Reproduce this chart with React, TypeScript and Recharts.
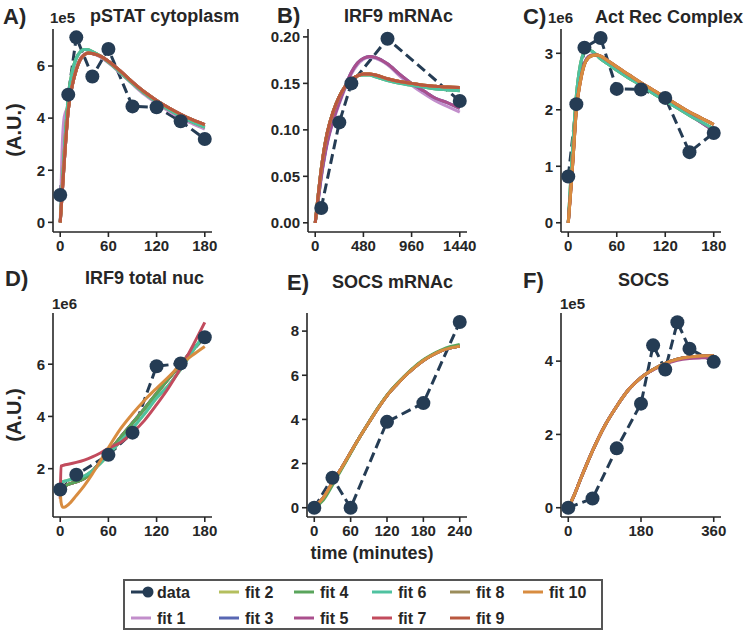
import React from "react";
import { LineChart, Line, XAxis, YAxis } from "recharts";

const FONT = '"Liberation Sans", Arial, sans-serif';
const INK = "#262626";
const DATA_COLOR = "#253c54";
const FIT_COLORS = ["#c28ecb", "#b4bf5e", "#5867b3", "#5aa55c", "#aa4f8d", "#4fc2a0", "#c24b5d", "#9b8d5b", "#b9583f", "#d88c40"];

// ── A) pSTAT cytoplasm (x1e5) ──
const A_DATA_T = [0, 10, 20, 40, 60, 90, 120, 150, 180];
const A_DATA_V = [1.05, 4.9, 7.1, 5.6, 6.65, 4.45, 4.42, 3.88, 3.2];
const A_FIT_T = [0, 2, 5, 10, 15, 20, 25, 30, 35, 40, 50, 60, 75, 90, 105, 120, 135, 150, 165, 180];
const A_FIT_MAIN = [0, 0.9, 2.3, 4.3, 5.25, 5.85, 6.25, 6.43, 6.5, 6.48, 6.38, 6.18, 5.8, 5.38, 5.0, 4.68, 4.4, 4.15, 3.93, 3.75];
const A_FIT_GREEN = [0, 1.1, 2.7, 4.8, 5.8, 6.3, 6.55, 6.63, 6.62, 6.55, 6.38, 6.15, 5.75, 5.33, 4.95, 4.62, 4.33, 4.07, 3.85, 3.65];
const A_FIT_ONE = [0, 2.5, 4.05, 4.5, 5.35, 5.95, 6.3, 6.45, 6.5, 6.47, 6.35, 6.12, 5.72, 5.3, 4.9, 4.56, 4.27, 4.0, 3.78, 3.58];

// ── B) IRF9 mRNAc ──
const B_DATA_T = [60, 240, 360, 720, 1440];
const B_DATA_V = [0.016, 0.108, 0.15, 0.198, 0.131];
const B_FIT_T = [0, 30, 60, 90, 120, 180, 240, 300, 360, 420, 480, 540, 600, 720, 840, 960, 1080, 1200, 1320, 1440];
const B_FIT_FLAT = [0, 0.03, 0.058, 0.08, 0.097, 0.12, 0.136, 0.147, 0.154, 0.158, 0.16, 0.16, 0.159, 0.155, 0.152, 0.15, 0.148, 0.147, 0.146, 0.1455];
const B_FIT_FLAT2 = [0, 0.03, 0.058, 0.08, 0.097, 0.12, 0.136, 0.147, 0.154, 0.158, 0.159, 0.159, 0.157, 0.153, 0.15, 0.148, 0.146, 0.144, 0.143, 0.142];
const B_FIT_PEAK = [0, 0.025, 0.05, 0.07, 0.087, 0.111, 0.13, 0.147, 0.162, 0.172, 0.177, 0.179, 0.178, 0.171, 0.16, 0.15, 0.142, 0.134, 0.129, 0.123];
const B_FIT_PEAK1 = [0, 0.024, 0.048, 0.068, 0.085, 0.109, 0.128, 0.145, 0.16, 0.17, 0.176, 0.178, 0.177, 0.17, 0.158, 0.148, 0.139, 0.131, 0.125, 0.119];

// ── C) Act Rec Complex (x1e6) ──
const C_DATA_T = [0, 10, 20, 40, 60, 90, 120, 150, 180];
const C_DATA_V = [0.82, 2.1, 3.1, 3.27, 2.37, 2.36, 2.21, 1.25, 1.59];
const C_FIT_T = [0, 3, 6, 10, 15, 20, 25, 30, 35, 40, 50, 60, 75, 90, 105, 120, 135, 150, 165, 180];
const C_FIT_LATE = [0, 0.55, 1.15, 2.0, 2.5, 2.8, 2.92, 2.96, 2.97, 2.95, 2.86, 2.76, 2.62, 2.48, 2.35, 2.22, 2.09, 1.96, 1.85, 1.74];
const C_FIT_EARLY = [0, 0.75, 1.45, 2.25, 2.8, 3.02, 3.06, 3.03, 2.97, 2.9, 2.8, 2.7, 2.56, 2.43, 2.29, 2.16, 2.03, 1.9, 1.78, 1.66];
const C_FIT_PURPLE = [0, 0.6, 1.2, 2.05, 2.55, 2.83, 2.94, 2.97, 2.97, 2.94, 2.85, 2.74, 2.6, 2.45, 2.32, 2.18, 2.05, 1.91, 1.77, 1.63];

// ── D) IRF9 total nuc (x1e6) ──
const D_DATA_T = [0, 20, 60, 90, 120, 150, 180];
const D_DATA_V = [1.2, 1.77, 2.53, 3.38, 5.92, 6.03, 7.03];
const D_FIT_T = [0, 1, 3, 5, 10, 20, 30, 40, 50, 60, 75, 90, 105, 120, 135, 150, 165, 180];
const D_FIT_RED = [0.85, 2.1, 2.12, 2.14, 2.17, 2.24, 2.33, 2.45, 2.6, 2.78, 3.0, 3.38, 3.85, 4.45, 5.1, 5.85, 6.7, 7.6];
const D_FIT_ORANGE = [1.2, 0.72, 0.52, 0.52, 0.62, 0.97, 1.35, 1.8, 2.3, 2.8, 3.52, 4.1, 4.62, 5.08, 5.52, 5.98, 6.35, 6.68];
const D_FIT_TEAL = [1.45, 1.48, 1.5, 1.52, 1.56, 1.63, 1.72, 1.92, 2.2, 2.53, 3.05, 3.55, 4.1, 4.7, 5.2, 5.8, 6.5, 7.15];
const D_FIT_GREEN = [1.05, 1.15, 1.25, 1.32, 1.4, 1.5, 1.62, 1.9, 2.25, 2.62, 3.2, 3.75, 4.3, 4.88, 5.45, 6.0, 6.55, 7.05];

// ── E) SOCS mRNAc ──
const E_DATA_T = [0, 30, 60, 120, 180, 240];
const E_DATA_V = [0, 1.36, 0, 3.89, 4.74, 8.41];
const E_FIT_T = [0, 15, 30, 45, 60, 75, 90, 105, 120, 135, 150, 165, 180, 195, 210, 225, 240];
const E_FIT_MAIN = [0.05, 0.45, 1.14, 1.8, 2.5, 3.2, 3.86, 4.5, 5.08, 5.55, 5.98, 6.35, 6.67, 6.92, 7.12, 7.24, 7.32];
const E_FIT_GREEN = [0, 0.35, 1.02, 1.74, 2.47, 3.2, 3.87, 4.52, 5.1, 5.58, 6.0, 6.38, 6.7, 6.95, 7.15, 7.3, 7.4];

// ── F) SOCS (x1e5) ──
const F_DATA_T = [0, 60, 120, 180, 210, 240, 270, 300, 360];
const F_DATA_V = [0, 0.25, 1.62, 2.84, 4.43, 3.77, 5.06, 4.34, 3.98];
const F_FIT_T = [0, 15, 30, 45, 60, 90, 120, 150, 180, 210, 240, 270, 300, 330, 360];
const F_FIT_MAIN = [0, 0.35, 0.77, 1.17, 1.55, 2.23, 2.77, 3.23, 3.55, 3.77, 3.94, 4.05, 4.11, 4.14, 4.15];
const F_FIT_MAGENTA = [0, 0.35, 0.77, 1.17, 1.55, 2.23, 2.77, 3.23, 3.55, 3.76, 3.92, 4.02, 4.07, 4.09, 4.1];

const pts = (ts: number[], vs: number[]) => ts.map((t, i) => ({ t, v: vs[i] }));

// which curve each fit (1..10) follows, and drawing order (last = on top)
const PANELS = [
  {
    id: "A", left: 53, top: 29, right: 212, bottom: 232,
    xDomain: [-9, 189], yDomain: [-0.37, 7.42], xTicks: [0, 60, 120, 180], yTicks: [0, 2, 4, 6], dec: 0,
    data: pts(A_DATA_T, A_DATA_V),
    curves: { main: pts(A_FIT_T, A_FIT_MAIN), green: pts(A_FIT_T, A_FIT_GREEN), one: pts(A_FIT_T, A_FIT_ONE) },
    fitOf: ["one", "green", "main", "green", "main", "green", "main", "main", "main", "main"],
    order: [1, 2, 3, 4, 5, 6, 7, 8, 10, 9],
  },
  {
    id: "B", left: 308, top: 29, right: 467, bottom: 232,
    xDomain: [-72, 1512], yDomain: [-0.0099, 0.2085], xTicks: [0, 480, 960, 1440], yTicks: [0, 0.05, 0.1, 0.15, 0.2], dec: 2,
    data: pts(B_DATA_T, B_DATA_V),
    curves: { flat: pts(B_FIT_T, B_FIT_FLAT), flat2: pts(B_FIT_T, B_FIT_FLAT2), peak: pts(B_FIT_T, B_FIT_PEAK), peak1: pts(B_FIT_T, B_FIT_PEAK1) },
    fitOf: ["peak1", "flat", "peak", "flat2", "peak", "flat2", "flat", "flat", "flat", "flat"],
    order: [1, 2, 3, 4, 5, 6, 7, 8, 10, 9],
  },
  {
    id: "C", left: 561, top: 29, right: 721, bottom: 232,
    xDomain: [-9, 189], yDomain: [-0.1635, 3.43], xTicks: [0, 60, 120, 180], yTicks: [0, 1, 2, 3], dec: 0,
    data: pts(C_DATA_T, C_DATA_V),
    curves: { late: pts(C_FIT_T, C_FIT_LATE), early: pts(C_FIT_T, C_FIT_EARLY), purple: pts(C_FIT_T, C_FIT_PURPLE) },
    fitOf: ["purple", "early", "purple", "early", "purple", "early", "late", "late", "late", "late"],
    order: [1, 2, 3, 4, 5, 6, 7, 8, 9, 10],
  },
  {
    id: "D", left: 53, top: 313, right: 212, bottom: 517,
    xDomain: [-9, 189], yDomain: [0.15, 7.96], xTicks: [0, 60, 120, 180], yTicks: [2, 4, 6], dec: 0,
    data: pts(D_DATA_T, D_DATA_V),
    curves: { red: pts(D_FIT_T, D_FIT_RED), orange: pts(D_FIT_T, D_FIT_ORANGE), teal: pts(D_FIT_T, D_FIT_TEAL), green: pts(D_FIT_T, D_FIT_GREEN) },
    fitOf: ["green", "teal", "green", "green", "green", "teal", "red", "green", "green", "orange"],
    order: [1, 3, 5, 8, 9, 2, 4, 6, 7, 10],
  },
  {
    id: "E", left: 307, top: 313, right: 467, bottom: 517,
    xDomain: [-12, 252], yDomain: [-0.42, 8.82], xTicks: [0, 60, 120, 180, 240], yTicks: [0, 2, 4, 6, 8], dec: 0,
    data: pts(E_DATA_T, E_DATA_V),
    curves: { main: pts(E_FIT_T, E_FIT_MAIN), green: pts(E_FIT_T, E_FIT_GREEN) },
    fitOf: ["main", "main", "main", "green", "main", "main", "main", "main", "main", "main"],
    order: [1, 2, 3, 5, 6, 7, 8, 9, 4, 10],
  },
  {
    id: "F", left: 561, top: 313, right: 721, bottom: 517,
    xDomain: [-18, 378], yDomain: [-0.253, 5.313], xTicks: [0, 180, 360], yTicks: [0, 2, 4], dec: 0,
    data: pts(F_DATA_T, F_DATA_V),
    curves: { main: pts(F_FIT_T, F_FIT_MAIN), magenta: pts(F_FIT_T, F_FIT_MAGENTA) },
    fitOf: ["main", "main", "main", "main", "magenta", "main", "main", "main", "main", "main"],
    order: [1, 2, 3, 4, 6, 7, 8, 9, 5, 10],
  },
];

const TEXTS = [
  { s: "A)", x: 3, y: 16, size: 22 }, { s: "B)", x: 277, y: 15, size: 22 }, { s: "C)", x: 523, y: 16, size: 22 },
  { s: "D)", x: 5, y: 278, size: 22 }, { s: "E)", x: 287, y: 282, size: 22 }, { s: "F)", x: 523, y: 280, size: 22 },
  { s: "pSTAT cytoplasm", x: 90, y: 16, size: 18 }, { s: "IRF9 mRNAc", x: 344, y: 16, size: 18 },
  { s: "Act Rec Complex", x: 595, y: 17, size: 18 }, { s: "IRF9 total nuc", x: 85, y: 278, size: 18 },
  { s: "SOCS mRNAc", x: 332, y: 282, size: 18 }, { s: "SOCS", x: 618, y: 280, size: 18 },
  { s: "1e5", x: 50, y: 17, size: 15 }, { s: "1e6", x: 548, y: 17, size: 15 },
  { s: "1e6", x: 52, y: 303, size: 15 }, { s: "1e5", x: 560, y: 303, size: 15 },
];

const LEGEND_ROWS = [
  ["data", "fit 2", "fit 4", "fit 6", "fit 8", "fit 10"],
  ["fit 1", "fit 3", "fit 5", "fit 7", "fit 9"],
];
const LEGEND_COLS = [131, 219, 294, 372, 450, 523];

const tickStyle = { fontSize: 15, fontWeight: 700, fill: INK, fontFamily: FONT };
const axisStyle = { stroke: INK, strokeWidth: 1.6 };

function Panel({ p }: { p: any }) {
  const yW = 50, mt = 10, mr = 10, xH = 25;
  const w = yW + (p.right - p.left) + mr;
  const h = mt + (p.bottom - p.top) + xH;
  return (
    <div style={{ position: "absolute", left: p.left - yW, top: p.top - mt }}>
      <LineChart width={w} height={h} margin={{ top: mt, right: mr, bottom: 0, left: 0 }}>
        <XAxis type="number" dataKey="t" domain={p.xDomain} ticks={p.xTicks} allowDataOverflow interval={0}
          height={xH} tick={tickStyle} tickSize={5} tickMargin={3} axisLine={axisStyle} tickLine={axisStyle} />
        <YAxis type="number" domain={p.yDomain} ticks={p.yTicks} allowDataOverflow interval={0}
          width={yW} tick={tickStyle} tickSize={5} tickMargin={3} axisLine={axisStyle} tickLine={axisStyle}
          tickFormatter={(v: number) => v.toFixed(p.dec)} />
        <Line data={p.data} dataKey="v" type="linear" stroke={DATA_COLOR} strokeWidth={3} strokeDasharray="10 5"
          dot={{ r: 7, fill: DATA_COLOR, stroke: DATA_COLOR, strokeWidth: 0 }} isAnimationActive={false} />
        {p.order.map((n: number) => (
          <Line key={n} data={p.curves[p.fitOf[n - 1]]} dataKey="v" type="monotone" stroke={FIT_COLORS[n - 1]}
            strokeWidth={3} dot={false} isAnimationActive={false} />
        ))}
      </LineChart>
    </div>
  );
}

export default function App() {
  return (
    <div style={{ position: "absolute", left: 0, top: 0, width: 750, height: 634, background: "#fff", fontFamily: FONT }}>
      {PANELS.map((p) => <Panel key={p.id} p={p} />)}
      <svg width={750} height={634} style={{ position: "absolute", left: 0, top: 0, pointerEvents: "none" }}>
        <g fontFamily={FONT} fontWeight={700} fill={INK}>
          {TEXTS.map((t, i) => (
            <text key={i} x={t.x} y={t.y} fontSize={t.size} dominantBaseline="central">{t.s}</text>
          ))}
          <text x={14} y={130} fontSize={20} textAnchor="middle" dominantBaseline="central" transform="rotate(-90 14 130)">(A.U.)</text>
          <text x={14} y={415} fontSize={20} textAnchor="middle" dominantBaseline="central" transform="rotate(-90 14 415)">(A.U.)</text>
          <text x={372} y={553} fontSize={18} textAnchor="middle" dominantBaseline="central">time (minutes)</text>
        </g>
        <rect x={124} y={580} width={478} height={49} fill="#fff" stroke="#555" strokeWidth={2} />
        {LEGEND_ROWS.map((row, r) =>
          row.map((name, c) => {
            const x = LEGEND_COLS[c];
            const y = r === 0 ? 592 : 618;
            const isData = name === "data";
            const color = isData ? DATA_COLOR : FIT_COLORS[Number(name.slice(4)) - 1];
            return (
              <g key={name}>
                <line x1={x} y1={y} x2={x + (isData ? 17 : 20)} y2={y} stroke={color} strokeWidth={3} />
                {isData && <circle cx={x + 17} cy={y} r={5.5} fill={color} />}
                <text x={x + 26} y={y} fontSize={16} fontWeight={700} fill={INK} fontFamily={FONT} dominantBaseline="central">{name}</text>
              </g>
            );
          })
        )}
      </svg>
    </div>
  );
}
